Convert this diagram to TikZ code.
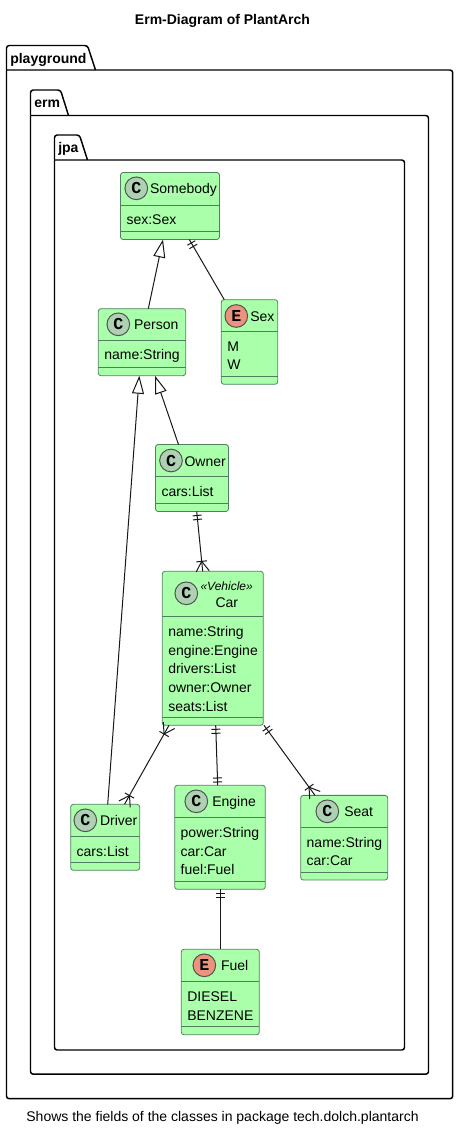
\documentclass[tikz,border=0pt]{standalone}
\usepackage{fontspec}
\setmainfont{Liberation Sans}
\newfontfamily\iconfont{Liberation Mono}
\usepackage{xcolor}
\usetikzlibrary{arrows.meta,calc,decorations.markings}

\definecolor{classfill}{HTML}{AAFFAA}
\definecolor{classline}{HTML}{4F7F5F}
\definecolor{connline}{HTML}{181818}
\definecolor{iconC}{HTML}{ADD1B2}
\definecolor{iconE}{HTML}{EB937F}

\tikzset{
  txt/.style={font=\fontsize{10.5}{14}\selectfont, inner sep=0pt, outer sep=0pt},
  pkgline/.style={black, line width=1.1pt, rounded corners=2pt},
  pkglabel/.style={txt, font=\fontsize{10.5}{14}\selectfont\bfseries, anchor=west},
  classbox/.style={draw=classline, fill=classfill, line width=0.6pt, rounded corners=2pt,
    inner sep=0pt, outer sep=0pt},
  divider/.style={classline, line width=0.6pt},
  icon/.style={circle, draw=connline!75, line width=0.75pt, minimum size=17pt, inner sep=0pt,
    font=\fontsize{12.5}{12.5}\selectfont\iconfont\bfseries},
  conn/.style={connline, line width=0.75pt},
  isa/.style={conn, -{Triangle[fill=white, length=13.5pt, width=9pt, line width=0.75pt]}},
  onestart/.style={postaction={decorate, decoration={markings,
    mark=at position 3pt with {\draw[conn] (0,-3.4pt) -- (0,3.4pt);},
    mark=at position 6pt with {\draw[conn] (0,-3.4pt) -- (0,3.4pt);}}}},
  oneend/.style={postaction={decorate, decoration={markings,
    mark=at position -5.5pt with {\draw[conn] (0,-3.4pt) -- (0,3.4pt);},
    mark=at position -2.5pt with {\draw[conn] (0,-3.4pt) -- (0,3.4pt);}}}},
  manystart/.style={postaction={decorate, decoration={markings,
    mark=at position 7.5pt with {\draw[conn] (0,-4pt) -- (0,4pt);
      \draw[conn] (-7.5pt,-4.9pt) -- (0,0) -- (-7.5pt,4.9pt);}}}},
  manyend/.style={postaction={decorate, decoration={markings,
    mark=at position -7.5pt with {\draw[conn] (0,-4pt) -- (0,4pt);
      \draw[conn] (7.5pt,-4.9pt) -- (0,0) -- (7.5pt,4.9pt);}}}},
}

\begin{document}
\begin{tikzpicture}[x=0.75pt, y=-0.75pt]
  \useasboundingbox (0,0) rectangle (458,1132);

  % title and caption
  \node[txt, font=\fontsize{10.5}{14}\selectfont\bfseries] (title) at (222.5,21) {Erm-Diagram of PlantArch};
  \node[txt] (caption) at (222.5,1117.5) {Shows the fields of the classes in package tech.dolch.plantarch};

  % nested packages
  \foreach \id/\xl/\xr/\yt/\yl/\yb/\xt/\ly/\label in {
    playground/6.5/452.7/45.5/70/1098.7/95.5/59.5/playground,
    erm/30.5/428.5/90/115.5/1074.2/68.5/104/erm,
    jpa/54.5/404.5/135/160/1050/87.5/149/jpa} {
    \draw[pkgline] (\xl,\yl) -- (\xl,\yt) -- (\xt-8,\yt) -- (\xt,\yl);
    \draw[pkgline] (\xl,\yl) -- (\xl,\yb) -- (\xr,\yb) -- (\xr,\yl) -- (\xl,\yl);
    \node[pkglabel] (\id-label) at (\xl+3.8,\ly) {\label};
  }

  % classes: centre, size, header height, icon, name, fields
  \foreach \id/\cx/\cy/\w/\h/\hh/\kind/\ix/\iy/\nx/\ny/\name/\fields in {
    somebody/170/206/99/67/32.5/C/136.3/188.3/150/193.8/Somebody/{sex:Sex},
    person/142/342.2/87.4/67/31.5/C/118.3/324.3/134/329.8/Person/{name:String},
    sex/249.5/342/56.4/84.6/32/E/236.3/316/250.3/321.5/Sex/{M\\W},
    owner/192/478/73/67/32/C/171/460.5/184.5/466/Owner/{cars:List},
    car/212.8/648.3/101/154/45.4/C/186.3/593.3/215.5/607.7/Car/{name:String\\engine:Engine\\drivers:List\\owner:Owner\\seats:List},
    driver/105.2/837.3/69/66/32/C/85.3/820.3/100/825.8/Driver/{cars:List},
    engine/220/837.3/90.6/104/32/C/196.3/801.3/212.3/806.8/Engine/{power:String\\car:Car\\fuel:Fuel},
    seat/344.2/837.7/87/84.7/32/C/327.3/811.3/344.3/816.8/Seat/{name:String\\car:Car},
    fuel/220.3/992/78/85.4/32/E/204.3/965.3/221/970.8/Fuel/{DIESEL\\BENZENE}} {
    \node[classbox, minimum width=\w*0.75pt, minimum height=\h*0.75pt] (\id) at (\cx,\cy) {};
    \draw[divider] ($(\id.north west)+(0,\hh)$) -- ($(\id.north east)+(0,\hh)$);
    \draw[divider] ($(\id.south west)+(0,-8)$) -- ($(\id.south east)+(0,-8)$);
    \node[icon, fill=icon\kind] (\id-icon) at (\ix,\iy) {\kind};
    \node[txt, anchor=base west] (\id-name) at (\nx,\ny) {\name};
    \node[txt, anchor=west, align=left] (\id-fields) at
      ($(\id.north west)+(6,\hh/2+\h/2-2.2)$) {\fields};
  }

  % the car header has a stereotype
  \node[txt, anchor=base, font=\fontsize{9}{11}\selectfont\itshape] (car-stereo) at (226.7,590) {«Vehicle»};

  % inheritance
  \draw[isa] ($(person.north)+(6.3,0)$) -- ($(somebody.south)+(-7,0)$);
  \draw[isa] ($(owner.north)+(-13.5,0)$) -- ($(person.south)+(13,0)$);
  \draw[isa] ($(driver.north)+(2.5,0)$) -- ($(person.south)+(-2.7,0)$);

  % associations
  \draw[conn, onestart] ($(somebody.south)+(19.3,0)$) -- ($(sex.north)+(-25.2,0)$);
  \draw[conn, onestart, manyend] ($(owner.south)+(4.7,0)$) -- ($(car.north)+(-10.1,0)$);
  \draw[conn, manystart, manyend] ($(car.south)+(-43.8,0)$) -- ($(driver.north)+(19.3,0)$);
  \draw[conn, onestart, oneend] ($(car.south)+(2.9,0)$) -- ($(engine.north)+(-2.3,0)$);
  \draw[conn, onestart, manyend] ($(car.south)+(51.2,0)$) -- ($(seat.north)+(-29.2,0)$);
  \draw[conn, onestart] ($(engine.south)+(0.3,0)$) -- (fuel.north);
\end{tikzpicture}
\end{document}
